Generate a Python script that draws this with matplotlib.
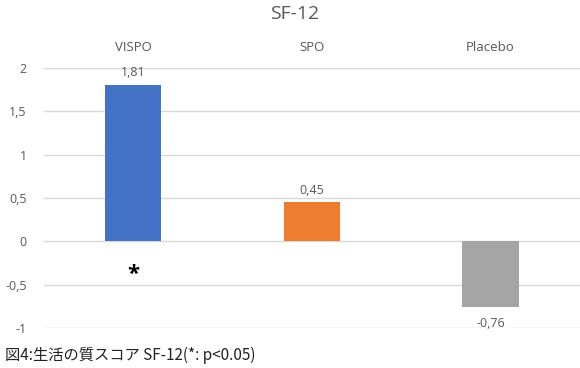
import matplotlib.pyplot as plt

groups = ["VISPO", "SPO", "Placebo"]
scores = [1.81, 0.45, -0.76]
score_text = ["1,81", "0,45", "-0,76"]
yticks = [-1, -0.5, 0, 0.5, 1, 1.5, 2]
ytick_text = ["-1", "-0,5", "0", "0,5", "1", "1,5", "2"]
colors = ["#4472C4", "#ED7D31", "#A5A5A5"]

plt.rcParams['font.family'] = ['Open Sans', 'DejaVu Sans']
grey = "#595959"

fig = plt.figure(figsize=(5.8, 3.68), dpi=100)
ax = fig.add_axes([0.075, 0.109, 0.925, 0.706])

x = range(len(groups))
ax.bar(x, scores, width=0.315, color=colors, zorder=3)
ax.set_xlim(-0.5, 2.5)
ax.set_ylim(-1, 2)
ax.set_yticks(yticks)
ax.set_yticklabels(ytick_text, color=grey, fontsize=9)
ax.tick_params(axis='y', length=0, pad=12)
ax.set_xticks([])
ax.grid(axis='y', color="#d9d9d9", linewidth=1, zorder=0)
for s in ax.spines.values():
    s.set_visible(False)

# value labels
for i, v in enumerate(scores):
    if v >= 0:
        ax.annotate(score_text[i], (i, v), xytext=(0, 4), textcoords='offset points',
                    ha='center', va='bottom', color=grey, fontsize=9)
    else:
        ax.annotate(score_text[i], (i, v), xytext=(0, -7), textcoords='offset points',
                    ha='center', va='top', color=grey, fontsize=9)

# category names along the top
for i, g in enumerate(groups):
    ax.annotate(g, (i, 1.0), xycoords=ax.get_xaxis_transform(), xytext=(0, 14.5),
                textcoords='offset points', ha='center', va='center',
                color=grey, fontsize=9.5)

ax.text(0, -0.38, "*", ha='center', va='center', fontsize=16, fontweight='bold', color='black')

fig.text(0.508, 0.962, "SF-12", ha='center', va='center', fontsize=14, color=grey)
fig.text(0.008, 0.035, "図4:生活の質スコア SF-12(*: p<0.05)", ha='left', va='center', fontsize=11,
         family=['Noto Sans CJK JP', 'DejaVu Sans'], color='#222222')

fig.savefig("out.png", dpi=100)
